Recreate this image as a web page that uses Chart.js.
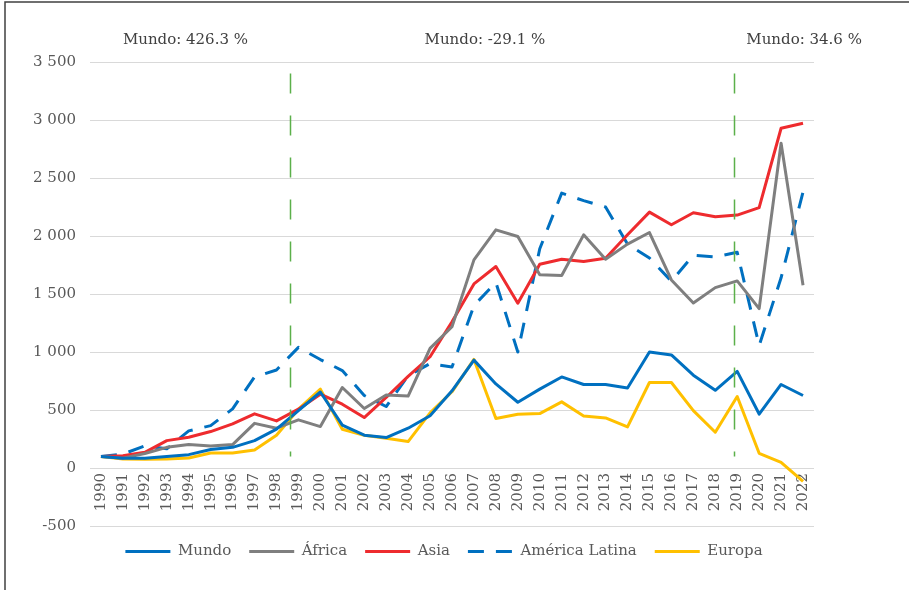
<!DOCTYPE html>
<html>
<head>
<meta charset="utf-8">
<script src="https://cdn.jsdelivr.net/npm/chart.js@4.4.1/dist/chart.umd.min.js"></script>
<style>
  body { margin: 0; background: #fff; }
  canvas { display: block; }
</style>
</head>
<body>
<canvas id="chart" width="909" height="590"></canvas>
<script>
// Index values, 1990 = 100
const years = ['1990', '1991', '1992', '1993', '1994', '1995', '1996', '1997', '1998', '1999',
  '2000', '2001', '2002', '2003', '2004', '2005', '2006', '2007', '2008', '2009',
  '2010', '2011', '2012', '2013', '2014', '2015', '2016', '2017', '2018', '2019',
  '2020', '2021', '2022'];

const mundo = [100, 85, 85, 100, 115, 160, 178, 236, 335, 495,
  655, 370, 283, 262, 343, 450, 665, 930, 725, 567,
  680, 785, 720, 720, 690, 1000, 975, 800, 670, 833,
  465, 720, 625];

const africa = [100, 85, 125, 178, 202, 190, 202, 385, 343, 415,
  357, 694, 513, 630, 620, 1031, 1218, 1794, 2053, 1996,
  1665, 1659, 2010, 1800, 1930, 2030, 1621, 1423, 1555, 1613,
  1374, 2799, 1575];

const asia = [100, 105, 135, 236, 265, 314, 380, 467, 406, 507,
  636, 550, 435, 608, 790, 959, 1261, 1587, 1737, 1420,
  1757, 1800, 1780, 1809, 2010, 2206, 2097, 2200, 2166, 2180,
  2244, 2929, 2972];

const latam = [100, 120, 190, 165, 320, 365, 510, 785, 845, 1040,
  935, 840, 625, 530, 795, 900, 870, 1400, 1600, 1000,
  1890, 2370, 2305, 2250, 1930, 1810, 1610, 1835, 1820, 1860,
  1055, 1640, 2380];

const europa = [100, 78, 75, 78, 86, 130, 130, 156, 282, 507,
  680, 334, 282, 256, 228, 475, 657, 936, 426, 464,
  469, 570, 449, 432, 354, 737, 737, 495, 308, 616,
  127, 49, -115];

// period notes above the plot, placed by category index
const periodLabels = ['Mundo: 426.3 %', 'Mundo: -29.1 %', 'Mundo: 34.6 %'];
const periodLabelPos = [3.85, 17.5, 32.05];

// green dashed separators (category index) and their vertical extent
const markerPos = [8.6, 28.85];
const markerTop = 3400;
const markerBottom = 100;

const fontFamily = '"DejaVu Serif", "Liberation Serif", serif';
const textColor = '#595959';

function formatThousands(v) {
  return String(v).replace(/\B(?=(\d{3})+(?!\d))/g, ' ');
}

function series(label, data, color, dash) {
  return {
    label: label,
    data: data,
    borderColor: color,
    backgroundColor: color,
    borderWidth: 3,
    borderDash: dash || [],
    borderJoinStyle: 'round',
    pointRadius: 0,
    tension: 0,
    fill: false
  };
}

const overlays = {
  id: 'overlays',
  afterDatasetsDraw(chart) {
    const { ctx, chartArea, scales: { x, y } } = chart;
    ctx.save();
    ctx.strokeStyle = '#5BB04A';
    ctx.lineWidth = 1.5;
    ctx.setLineDash([20, 22]);
    markerPos.forEach(p => {
      const px = Math.round(x.getPixelForValue(p)) + 0.5;
      ctx.beginPath();
      ctx.moveTo(px, y.getPixelForValue(markerTop));
      ctx.lineTo(px, y.getPixelForValue(markerBottom));
      ctx.stroke();
    });
    ctx.setLineDash([]);
    ctx.fillStyle = '#404040';
    ctx.font = '15px ' + fontFamily;
    ctx.textAlign = 'center';
    ctx.textBaseline = 'middle';
    periodLabels.forEach((t, i) => {
      ctx.fillText(t, x.getPixelForValue(periodLabelPos[i]), chartArea.top - 22);
    });
    ctx.restore();
  },
  afterDraw(chart) {
    const ctx = chart.ctx;
    ctx.save();
    ctx.strokeStyle = '#404040';
    ctx.lineWidth = 1.5;
    ctx.beginPath();
    ctx.moveTo(5, chart.height);
    ctx.lineTo(5, 2);
    ctx.lineTo(chart.width, 2);
    ctx.stroke();
    ctx.restore();
  }
};

const chart = new Chart(document.getElementById('chart'), {
  type: 'line',
  data: {
    labels: years,
    datasets: [
      series('Mundo', mundo, '#0070C0'),
      series('África', africa, '#7F7F7F'),
      series('Asia', asia, '#EE2B2E'),
      series('América Latina', latam, '#0070C0', [16, 12]),
      series('Europa', europa, '#FFC000')
    ]
  },
  options: {
    responsive: false,
    animation: false,
    devicePixelRatio: 1,
    layout: { padding: { left: 20, right: 41, top: 62, bottom: 21 } },
    plugins: {
      legend: {
        position: 'bottom',
        labels: {
          usePointStyle: true,
          pointStyle: 'line',
          pointStyleWidth: 45,
          padding: 18,
          color: textColor,
          font: { family: fontFamily, size: 15 },
          generateLabels: chart => {
            const items = Chart.defaults.plugins.legend.labels.generateLabels(chart);
            items.forEach(item => {
              const ds = chart.data.datasets[item.datasetIndex];
              item.lineDash = ds.borderDash;
              item.lineWidth = ds.borderWidth;
              item.strokeStyle = ds.borderColor;
            });
            return items;
          }
        }
      },
      tooltip: { enabled: false }
    },
    scales: {
      x: {
        position: { y: 0 },
        offset: true,
        afterFit: scale => { scale.height = 0; },
        grid: { display: false, drawTicks: false },
        border: { display: false },
        ticks: {
          autoSkip: false,
          minRotation: 90,
          maxRotation: 90,
          padding: 5,
          color: textColor,
          font: { family: fontFamily, size: 15 }
        }
      },
      y: {
        min: -500,
        max: 3500,
        afterFit: scale => { scale.width = 70; },
        grid: { color: '#D9D9D9', lineWidth: 1, drawTicks: false },
        border: { display: false },
        ticks: {
          stepSize: 500,
          padding: 14,
          color: textColor,
          font: { family: fontFamily, size: 15 },
          callback: v => formatThousands(v)
        }
      },
      // empty right-hand axis, only reserves space so the legend stays centred like the original
      spacer: {
        type: 'linear',
        position: 'right',
        afterFit: scale => { scale.width = 54; },
        grid: { display: false, drawTicks: false },
        border: { display: false },
        ticks: { display: false }
      }
    }
  },
  plugins: [overlays]
});
</script>
</body>
</html>
